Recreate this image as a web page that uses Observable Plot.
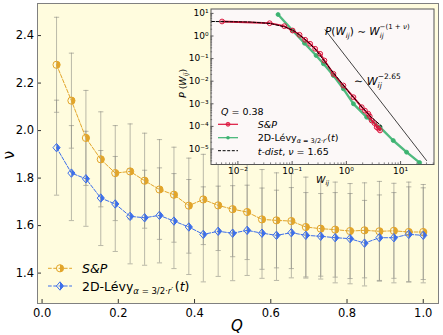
<!DOCTYPE html>
<html><head><meta charset="utf-8">
<script src="https://cdn.jsdelivr.net/npm/d3@7"></script>
<script src="https://cdn.jsdelivr.net/npm/@observablehq/plot@0.6"></script>
<style>
body{margin:0;background:#fff;}
#wrap{position:relative;width:443px;height:335px;font-family:"DejaVu Sans",sans-serif;}
#wrap > svg{position:absolute;}
</style></head><body><div id="wrap"></div>
<script>
// ---------- main chart data ----------
const Q = [0.038,0.077,0.115,0.154,0.192,0.231,0.269,0.308,0.346,0.385,0.423,0.462,0.5,0.538,0.577,0.615,0.654,0.692,0.731,0.769,0.808,0.846,0.885,0.923,0.962,1.0];
const nuSP = [2.277,2.126,1.969,1.879,1.821,1.828,1.789,1.752,1.730,1.684,1.710,1.685,1.669,1.657,1.626,1.622,1.619,1.594,1.587,1.583,1.577,1.580,1.576,1.578,1.573,1.573];
const nuLevy = [1.928,1.821,1.797,1.716,1.691,1.639,1.633,1.643,1.619,1.594,1.563,1.576,1.568,1.580,1.568,1.559,1.570,1.559,1.555,1.549,1.545,1.526,1.549,1.549,1.563,1.559];
const errSP = [0.20,0.20,0.20,0.20,0.20,0.20,0.20,0.21,0.20,0.20,0.19,0.19,0.20,0.20,0.21,0.20,0.20,0.21,0.20,0.20,0.20,0.20,0.21,0.20,0.21,0.20];
const errLevy = [0.20,0.20,0.20,0.20,0.20,0.20,0.20,0.20,0.20,0.20,0.20,0.19,0.20,0.19,0.19,0.19,0.19,0.18,0.18,0.19,0.19,0.18,0.18,0.19,0.20,0.20];
const xTicks = [0.0,0.2,0.4,0.6,0.8,1.0];
const yTicks = [1.4,1.6,1.8,2.0,2.2,2.4];

// ---------- inset data (W_ij, P(W_ij)) ----------
const spW = [0.0051,0.0385,0.0716,0.102,0.137,0.174,0.215,0.266,0.329,0.394,0.577,0.881,1.35,1.92,2.2,2.54,2.7,2.93,3.3,3.62,3.9,4.17];
const spP = [4.39,3.68,2.72,1.75,1.13,0.679,0.452,0.272,0.163,0.0824,0.0212,0.00646,0.00196,0.000708,0.0005,0.000363,0.00028,0.000182,0.00014,0.0000923,0.00008,0.0000661];
const levyW = [0.055,0.102,0.169,0.277,0.378,0.577,0.881,1.35,2.37,4.16,7.31,12.9,22.4];
const levyP = [8.93,1.75,0.48,0.137,0.0589,0.0179,0.00461,0.001,0.000255,0.0000923,0.0000238,0.00000724,0.0000025];
const tW = [0.00326,0.017,0.0398,0.0746,0.114,0.174,0.266,0.501,1.17,2.73,4.53];
const tP = [4.39,4.17,3.57,2.5,1.58,0.70,0.266,0.0363,0.00286,0.000288,0.0001];
const refW = [0.406,30.1];
const refP = [1.88,0.00000309];
const insetXTicks = [0.01,0.1,1,10];
const insetYTicks = [1e-5,1e-4,1e-3,1e-2,1e-1,1,10];

const orange = "#e2a52a", blue = "#3c6eea", red = "#dc143c", green = "#3cb371";

// custom symbols
const R = s => Math.sqrt(s/Math.PI);
const halfCircle = {draw(c,s){const r=R(s);c.moveTo(0,-r);c.arc(0,0,r,-Math.PI/2,Math.PI/2);c.closePath();}};
const diamond = {draw(c,s){const r=R(s),w=r*0.85;c.moveTo(0,-r);c.lineTo(w,0);c.lineTo(0,r);c.lineTo(-w,0);c.closePath();}};
const halfDiamond = {draw(c,s){const r=R(s),w=r*0.85;c.moveTo(0,-r);c.lineTo(w,0);c.lineTo(0,r);c.closePath();}};
const capSym = {draw(c,s){const r=R(s);c.moveTo(-r,0);c.lineTo(r,0);}};

const rows = Q.map((q,i)=>({Q:q, sp:nuSP[i], levy:nuLevy[i], eS:errSP[i], eL:errLevy[i]}));

const W=443,H=335,mL=37,mR=5,mT=3,mB=32;
const pw=W-mL-mR, ph=H-mT-mB;
const ebar = {stroke:"#8c8c84", strokeOpacity:0.6, strokeWidth:1};

const main = Plot.plot({
  width:W, height:H, marginLeft:mL, marginRight:mR, marginTop:mT, marginBottom:mB,
  style:{fontFamily:"DejaVu Sans", fontSize:"11.5px", color:"#000", background:"transparent"},
  x:{domain:[-0.012,1.04]},
  y:{domain:[1.272,2.535]},
  marks:[
    Plot.frame({fill:"#fffcde"}),
    Plot.ruleX(rows,{x:"Q", y1:d=>d.sp-d.eS, y2:d=>d.sp+d.eS, ...ebar}),
    Plot.ruleX(rows,{x:"Q", y1:d=>d.levy-d.eL, y2:d=>d.levy+d.eL, ...ebar}),
    Plot.dot(rows,{x:"Q", y:d=>d.sp+d.eS, symbol:capSym, r:2.6, fill:"none", ...ebar}),
    Plot.dot(rows,{x:"Q", y:d=>d.sp-d.eS, symbol:capSym, r:2.6, fill:"none", ...ebar}),
    Plot.dot(rows,{x:"Q", y:d=>d.levy+d.eL, symbol:capSym, r:2.6, fill:"none", ...ebar}),
    Plot.dot(rows,{x:"Q", y:d=>d.levy-d.eL, symbol:capSym, r:2.6, fill:"none", ...ebar}),
    Plot.line(rows,{x:"Q", y:"sp", stroke:orange, strokeWidth:1, strokeDasharray:"3.7,1.6"}),
    Plot.line(rows,{x:"Q", y:"levy", stroke:blue, strokeWidth:1, strokeDasharray:"3.7,1.6"}),
    Plot.dot(rows,{x:"Q", y:"sp", symbol:"circle", r:3.6, stroke:orange, fill:"none", strokeWidth:1}),
    Plot.dot(rows,{x:"Q", y:"sp", symbol:halfCircle, r:3.6, fill:orange}),
    Plot.dot(rows,{x:"Q", y:"levy", symbol:diamond, r:4.2, stroke:blue, fill:"none", strokeWidth:1}),
    Plot.dot(rows,{x:"Q", y:"levy", symbol:halfDiamond, r:4.2, fill:blue}),
    Plot.tickX(xTicks,{x:d=>d, insetTop:ph-4, stroke:"#333"}),
    Plot.tickY(yTicks,{y:d=>d, insetRight:pw-4, stroke:"#333"}),
    Plot.axisX(xTicks,{tickSize:0, tickPadding:5, tickFormat:d3.format(".1f"), label:null}),
    Plot.axisY(yTicks,{tickSize:0, tickPadding:3.5, tickFormat:d3.format(".1f"), label:null}),
    Plot.frame({stroke:"#808080"})
  ]
});
main.style.left="0px"; main.style.top="0px";

// inset
const sup = {"-":"\u207B","0":"\u2070","1":"\u00B9","2":"\u00B2","3":"\u00B3","4":"\u2074","5":"\u2075","6":"\u2076"};
const fmtPow = v => "10" + String(Math.round(Math.log10(v))).split("").map(c=>sup[c]).join("");
const minorX = [], minorY = [];
for (let e=-3;e<=1;e++) for (let m=2;m<=9;m++){ minorX.push(m*10**e); }
for (let e=-6;e<=1;e++) for (let m=2;m<=9;m++){ minorY.push(m*10**e); }
const IW=273, IH=185, iL=40.5, iR=9.5, iT=8.5, iB=21;
const ipw=IW-iL-iR, iph=IH-iT-iB;
const xDom=[10**-2.496,10**1.616], yDom=[10**-5.686,10**1.195];
const inX = v=>v>=xDom[0]&&v<=xDom[1], inY=v=>v>=yDom[0]&&v<=yDom[1];
const spRows = spW.map((w,i)=>({W:w,P:spP[i]}));
const levyRows = levyW.map((w,i)=>({W:w,P:levyP[i]}));
const tRows = tW.map((w,i)=>({W:w,P:tP[i]}));
const refRows = refW.map((w,i)=>({W:w,P:refP[i]}));
const inset = Plot.plot({
  width:IW, height:IH, marginLeft:iL, marginRight:iR, marginTop:iT, marginBottom:iB,
  style:{fontFamily:"DejaVu Sans", fontSize:"9px", color:"#000", background:"transparent"},
  x:{type:"log", domain:xDom},
  y:{type:"log", domain:yDom},
  marks:[
    Plot.frame({fill:"#fcf8f8"}),
    Plot.line(refRows,{x:"W", y:"P", stroke:"#111", strokeWidth:0.8, clip:true}),
    Plot.line(levyRows,{x:"W", y:"P", stroke:green, strokeWidth:2.4, strokeOpacity:0.9, clip:true}),
    Plot.dot(levyRows,{x:"W", y:"P", r:2, fill:green, stroke:green, strokeWidth:0.8, clip:true}),
    Plot.line(spRows,{x:"W", y:"P", stroke:red, strokeWidth:1.8, clip:true}),
    Plot.dot(spRows,{x:"W", y:"P", r:2.4, stroke:red, fill:"none", strokeWidth:1, clip:true}),
    Plot.line(tRows,{x:"W", y:"P", stroke:"#000", strokeWidth:1, strokeDasharray:"3,1.6", clip:true}),
    Plot.tickX(minorX.filter(inX),{x:d=>d, insetTop:iph-1.6, stroke:"#333", strokeWidth:0.6}),
    Plot.tickY(minorY.filter(inY),{y:d=>d, insetRight:ipw-1.6, stroke:"#333", strokeWidth:0.6}),
    Plot.tickX(insetXTicks,{x:d=>d, insetTop:iph-3, stroke:"#333", strokeWidth:0.8}),
    Plot.tickY(insetYTicks,{y:d=>d, insetRight:ipw-3, stroke:"#333", strokeWidth:0.8}),
    Plot.axisX(insetXTicks,{tickSize:0, tickPadding:3, tickFormat:fmtPow, label:null}),
    Plot.axisY(insetYTicks,{tickSize:0, tickPadding:2.5, tickFormat:fmtPow, label:null}),
    Plot.frame({stroke:"#555"})
  ]
});
inset.style.left="170px"; inset.style.top="0px";

const wrap = document.getElementById("wrap");
wrap.appendChild(main);
wrap.appendChild(inset);

// overlay: labels, legends and annotations
const ns="http://www.w3.org/2000/svg";
const ov = d3.create("svg").attr("width",W).attr("height",H).attr("xmlns",ns)
  .style("position","absolute").style("left","0px").style("top","0px")
  .attr("font-family","DejaVu Sans");

ov.append("text").attr("transform","translate(14,155) rotate(-90)").attr("text-anchor","middle")
  .attr("font-size",15).text("ν");
ov.append("text").attr("x",237).attr("y",331).attr("text-anchor","middle").attr("font-size",15)
  .attr("font-style","italic").text("Q");

// main legend
const sym = (t,r)=>d3.symbol(t, r*r*Math.PI)();
function legKey(y, color, full, half, r){
  ov.append("line").attr("x1",48).attr("x2",72).attr("y1",y).attr("y2",y).attr("stroke",color)
    .attr("stroke-width",1).attr("stroke-dasharray","3.7,1.6");
  ov.append("path").attr("transform",`translate(60,${y})`).attr("d",sym(full,r)).attr("fill","none").attr("stroke",color);
  ov.append("path").attr("transform",`translate(60,${y})`).attr("d",sym(half,r)).attr("fill",color);
}
legKey(268.3, orange, d3.symbolCircle, halfCircle, 3.6);
legKey(286, blue, diamond, halfDiamond, 4.2);
ov.append("text").attr("x",82).attr("y",272.5).attr("font-size",12.5).attr("font-style","italic").text("S&P");
const t2 = ov.append("text").attr("x",82).attr("y",290.5).attr("font-size",12.5);
t2.append("tspan").text("2D-Lévy");
t2.append("tspan").attr("font-size",8.5).attr("dy",3).html('<tspan font-style="italic">α</tspan> = 3/2·<tspan font-style="italic">r′</tspan>');
t2.append("tspan").attr("dy",-3).attr("dx",1.5).html('(<tspan font-style="italic">t</tspan>)');

// inset annotations
const a1 = ov.append("text").attr("x",325).attr("y",35).attr("font-size",10.5);
a1.html('<tspan font-style="italic">P</tspan>(<tspan font-style="italic">W</tspan><tspan font-size="7" font-style="italic" dy="2.5">ij</tspan><tspan dy="-2.5">) ∼ </tspan><tspan font-style="italic">W</tspan><tspan font-size="7" font-style="italic" dy="2.5">ij</tspan><tspan font-size="7" dx="-4" dy="-8.5">−(1 + </tspan><tspan font-size="7" font-style="italic">ν</tspan><tspan font-size="7">)</tspan>');
const a2 = ov.append("text").attr("x",354).attr("y",85).attr("font-size",11);
a2.html('∼ <tspan font-style="italic">W</tspan><tspan font-size="7.5" font-style="italic" dy="2.5">ij</tspan><tspan font-size="7.5" dx="-4" dy="-9">−2.65</tspan>');

// inset legend
ov.append("text").attr("x",221).attr("y",115).attr("font-size",9.5)
  .html('<tspan font-style="italic">Q</tspan> = 0.38');
ov.append("line").attr("x1",218).attr("x2",238).attr("y1",124.3).attr("y2",124.3).attr("stroke",red).attr("stroke-width",1.2);
ov.append("circle").attr("cx",228).attr("cy",124.3).attr("r",2).attr("fill",red).attr("fill-opacity",0.6).attr("stroke",red).attr("stroke-width",0.8);
ov.append("line").attr("x1",218).attr("x2",238).attr("y1",137.7).attr("y2",137.7).attr("stroke",green).attr("stroke-width",1.2);
ov.append("circle").attr("cx",228).attr("cy",137.7).attr("r",1.8).attr("fill",green);
ov.append("line").attr("x1",218).attr("x2",238).attr("y1",150.7).attr("y2",150.7).attr("stroke","#000").attr("stroke-width",1).attr("stroke-dasharray","3,1.6");
ov.append("text").attr("x",257.7).attr("y",128).attr("font-size",9.5).attr("font-style","italic").text("S&P");
ov.append("text").attr("x",257.7).attr("y",141).attr("font-size",9.5)
  .html('2D-Lévy<tspan font-size="6.5" dy="2"><tspan font-style="italic">α</tspan> = 3/2·<tspan font-style="italic">r′</tspan></tspan><tspan dy="-2">(<tspan font-style="italic">t</tspan>)</tspan>');
ov.append("text").attr("x",257.7).attr("y",155).attr("font-size",9.5)
  .html('<tspan font-style="italic">t-dist</tspan>, <tspan font-style="italic">ν</tspan> = 1.65');

// inset axis labels
ov.append("text").attr("transform","translate(186,83.5) rotate(-90)").attr("text-anchor","middle").attr("font-size",9.5)
  .html('<tspan font-style="italic">P</tspan> (<tspan font-style="italic">W</tspan><tspan font-size="6.5" font-style="italic" dy="2">ij</tspan><tspan dy="-2">)</tspan>');
ov.append("text").attr("x",316).attr("y",183).attr("font-size",9.5)
  .html('<tspan font-style="italic">W</tspan><tspan font-size="6.5" font-style="italic" dy="2">ij</tspan>');

wrap.appendChild(ov.node());
</script></body></html>
